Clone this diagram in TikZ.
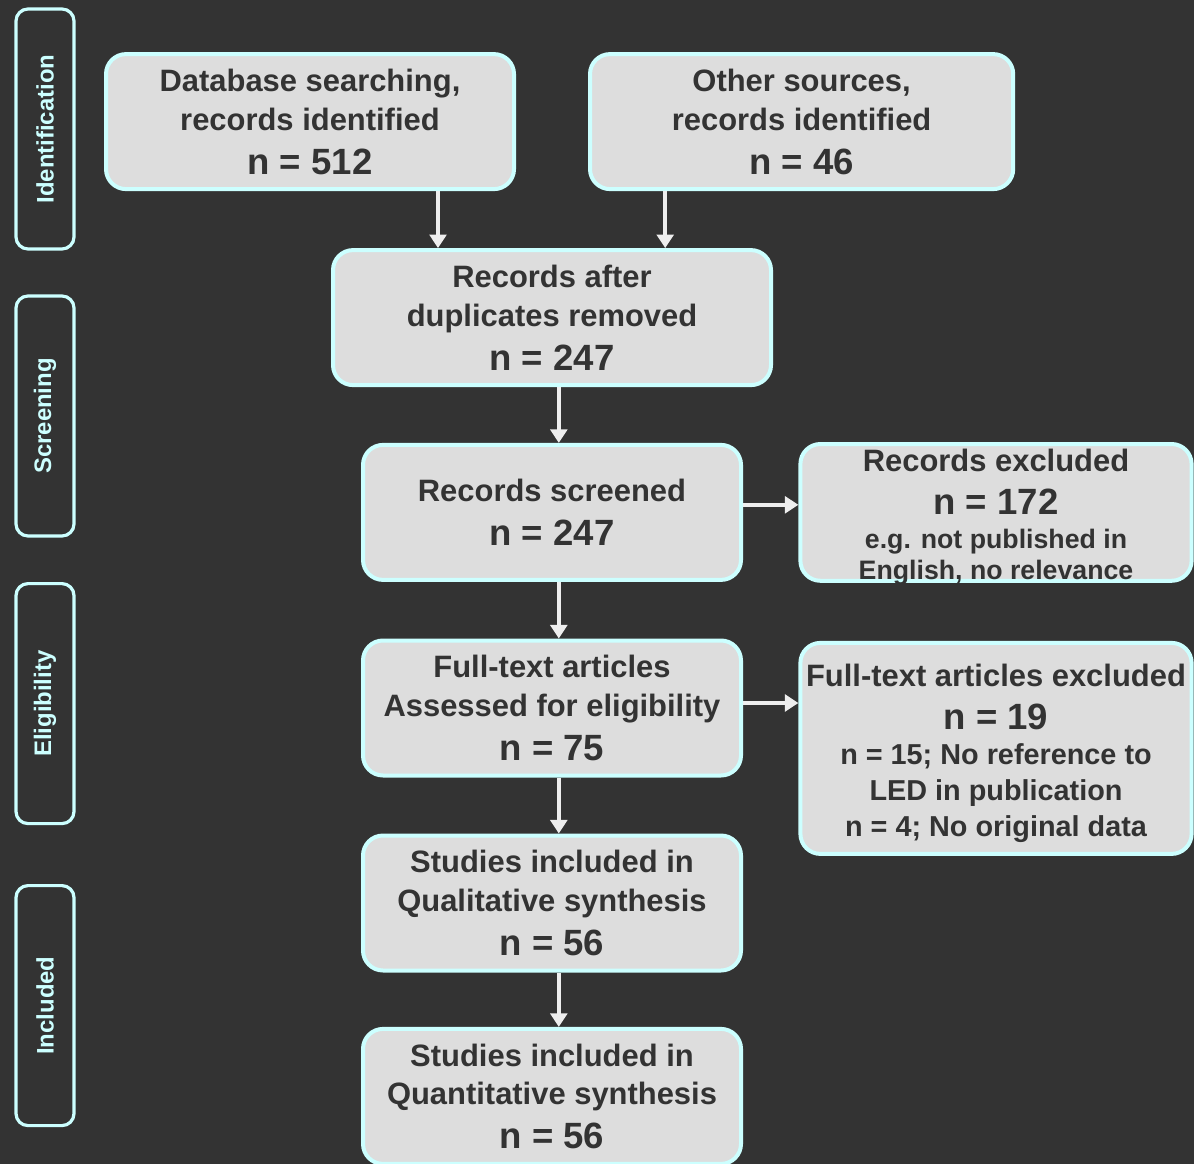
\documentclass[tikz,border=0pt]{standalone}
\usepackage{fontspec}
\setmainfont{Liberation Sans}
\usetikzlibrary{arrows.meta}

\definecolor{bgdark}{HTML}{333333}
\definecolor{boxfill}{HTML}{DDDDDD}
\definecolor{boxline}{HTML}{CCFFFF}
\definecolor{boxtext}{HTML}{333333}
\definecolor{arrowgray}{HTML}{EEEEEE}

\newcommand{\bignum}[1]{{\fontsize{26}{31}\selectfont #1}}
\newcommand{\smalltxt}[1]{{\fontsize{19}{23}\selectfont #1}}
\newcommand{\midtxt}[1]{{\fontsize{20.5}{25}\selectfont #1}}
\newcommand{\topgap}{\rule{0pt}{23pt}}

\begin{document}
\begin{tikzpicture}[box/.style = {rectangle, rounded corners=0.5cm, draw=boxline, fill=boxfill,
	line width=0.1cm, text=boxtext, align=center, minimum height=3.375cm, inner sep=0pt,
	font=\fontsize{22}{27.7}\selectfont\bfseries},
	phase/.style = {rectangle, rounded corners=0.3cm, draw=boxline, line width=0.08cm,
	minimum width=6.0cm, minimum height=1.45cm, rotate=90, text=boxline,
	font=\fontsize{17}{20}\selectfont\bfseries},
	edge/.style = {draw=arrowgray, line width=0.1cm, -{Triangle[width=0.42cm, length=0.34cm]}}]

	\fill[bgdark] (0cm, 0cm) rectangle (29.85cm, -29.1cm);
	\useasboundingbox (0cm, 0cm) rectangle (29.85cm, -29.1cm);

	% Phases
	\node (ident) [phase] at (1.125cm, -3.225cm) {Identification};
	\node (screen) [phase] at (1.125cm, -10.40cm) {Screening};
	\node (elig) [phase] at (1.125cm, -17.59cm) {Eligibility};
	\node (incl) [phase] at (1.125cm, -25.14cm) {Included};

	% Boxes
	\node (db) [box, minimum width=10.2cm] at (7.75cm, -3.04cm)
		{Database searching,\\ records identified\\[3.5pt] \bignum{n = 512}};
	\node (other) [box, minimum width=10.58cm] at (20.04cm, -3.04cm)
		{Other sources,\\ records identified\\[3.5pt] \bignum{n = 46}};

	\node (dup) [box, minimum width=10.95cm] at (13.8cm, -7.94cm)
		{Records after\\ duplicates removed\\[3.5pt] \bignum{n = 247}};

	\node (scr) [box, minimum width=9.45cm] at (13.8cm, -12.81cm)
		{Records screened\\[3.5pt] \bignum{n = 247}};
	\node (excl) [box, minimum width=9.78cm, inner ysep=-0.12cm] at (24.9cm, -12.81cm)
		{\topgap Records excluded\\[3pt] \bignum{n = 172}\\[-3.5pt] \smalltxt{e.g. not published in}\\[-5.5pt]
		\smalltxt{English, no relevance}};

	\node (full) [box, minimum width=9.45cm] at (13.8cm, -17.70cm)
		{Full-text articles\\ Assessed for eligibility\\[3.5pt] \bignum{n = 75}};
	\node (ftexcl) [box, minimum width=9.78cm, minimum height=5.275cm] at (24.9cm, -18.71cm)
		{\topgap Full-text articles excluded\\[3pt] \bignum{n = 19}\\[-3pt] \midtxt{n = 15; No reference to}\\[-2pt]
		\midtxt{LED in publication}\\[-2pt] \midtxt{n = 4; No original data}};

	\node (qual) [box, minimum width=9.45cm] at (13.8cm, -22.575cm)
		{Studies included in\\ Qualitative synthesis\\[3.5pt] \bignum{n = 56}};
	\node (quant) [box, minimum width=9.45cm] at (13.8cm, -27.41cm)
		{Studies included in\\ Quantitative synthesis\\[3.5pt] \bignum{n = 56}};

	% Arrows
	\draw[edge] ([xshift=3.2cm]db.south) -- ([xshift=3.2cm]db.south |- dup.north);
	\draw[edge] ([xshift=-3.41cm]other.south) -- ([xshift=-3.41cm]other.south |- dup.north);
	\draw[edge] ([xshift=0.17cm]dup.south) -- ([xshift=0.17cm]scr.north);
	\draw[edge] ([xshift=0.17cm]scr.south) -- ([xshift=0.17cm]full.north);
	\draw[edge] ([xshift=0.17cm]full.south) -- ([xshift=0.17cm]qual.north);
	\draw[edge] ([xshift=0.17cm]qual.south) -- ([xshift=0.17cm]quant.north);
	\draw[edge] ([yshift=0.19cm]scr.east) -- ([yshift=0.19cm]scr.east -| excl.west);
	\draw[edge] ([yshift=0.125cm]full.east) -- ([yshift=0.125cm]full.east -| ftexcl.west);
\end{tikzpicture}
\end{document}
